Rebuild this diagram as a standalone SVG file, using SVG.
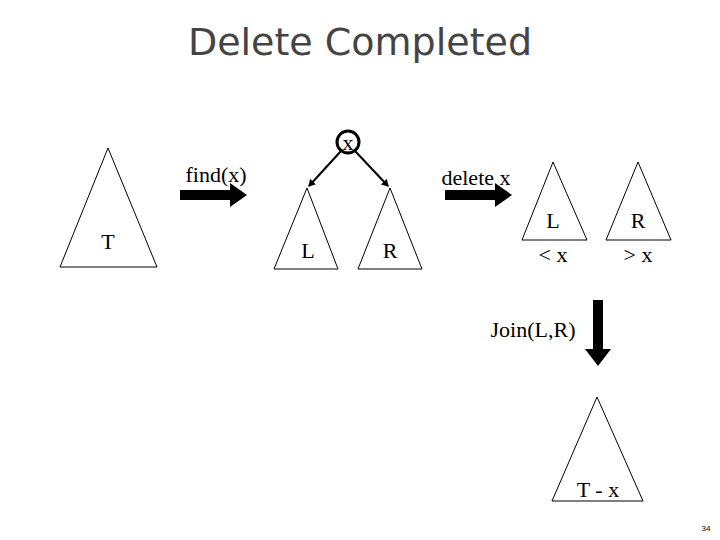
<svg xmlns="http://www.w3.org/2000/svg" width="720" height="540" viewBox="0 0 720 540">
<style>
.t{font-family:"Liberation Serif",serif;font-size:22px;fill:#000}
.tri{fill:#fff;stroke:#000;stroke-width:1}
.thin{stroke:#000;stroke-width:2;fill:none}
</style>
<defs><marker id="ah" markerWidth="8" markerHeight="8" refX="6" refY="4" orient="auto" markerUnits="userSpaceOnUse"><path d="M0,0 L7,4 L0,8 Z" fill="#000"/></marker></defs>
<rect width="720" height="540" fill="#fff"/>
<text x="360" y="55" text-anchor="middle" font-family="DejaVu Sans,sans-serif" font-size="38" fill="#444">Delete Completed</text>
<g id="T"><polygon class="tri" points="108,148 60,267 157,267"/><text class="t" x="108" y="249" text-anchor="middle">T</text></g>
<g id="find"><polygon points="180,190 230,190 230,183 247,195 230,207 230,200 180,200"/><text class="t" x="216" y="182" text-anchor="middle">find(x)</text></g>
<g id="x"><circle cx="348" cy="142" r="11" fill="#fff" stroke="#000" stroke-width="3"/><text class="t" x="348" y="150" text-anchor="middle">x</text></g>
<g id="L1"><polygon class="tri" points="307,188 274,269 338,269"/><text class="t" x="308" y="258" text-anchor="middle">L</text></g>
<g id="R1"><polygon class="tri" points="390,188 358,269 422,269"/><text class="t" x="390" y="258" text-anchor="middle">R</text></g>
<g id="del"><polygon points="445,190 495,190 495,183 512,195 495,207 495,200 445,200"/><text class="t" x="476" y="185" text-anchor="middle">delete x</text></g>
<g id="L2"><polygon class="tri" points="553,162 522,240 587,240"/><text class="t" x="553" y="228" text-anchor="middle">L</text><text class="t" x="553" y="262" text-anchor="middle">&lt; x</text></g>
<g id="R2"><polygon class="tri" points="638,162 606,240 671,240"/><text class="t" x="638" y="228" text-anchor="middle">R</text><text class="t" x="638" y="262" text-anchor="middle">&gt; x</text></g>
<g id="join"><polygon points="593,300 603,300 603,349 611,349 598,366 585,349 593,349"/><text class="t" x="533" y="337" text-anchor="middle">Join(L,R)</text></g>
<g id="TX"><polygon class="tri" points="597,397 552,501 643,501"/><text class="t" x="598" y="497" text-anchor="middle">T - x</text></g>
<g id="connectors"><line class="thin" x1="341" y1="151" x2="309" y2="186" marker-end="url(#ah)"/><line class="thin" x1="355" y1="151" x2="388" y2="186" marker-end="url(#ah)"/></g>
<text x="706" y="531" text-anchor="middle" font-family="Liberation Sans,sans-serif" font-size="8" fill="#000">34</text>
</svg>
